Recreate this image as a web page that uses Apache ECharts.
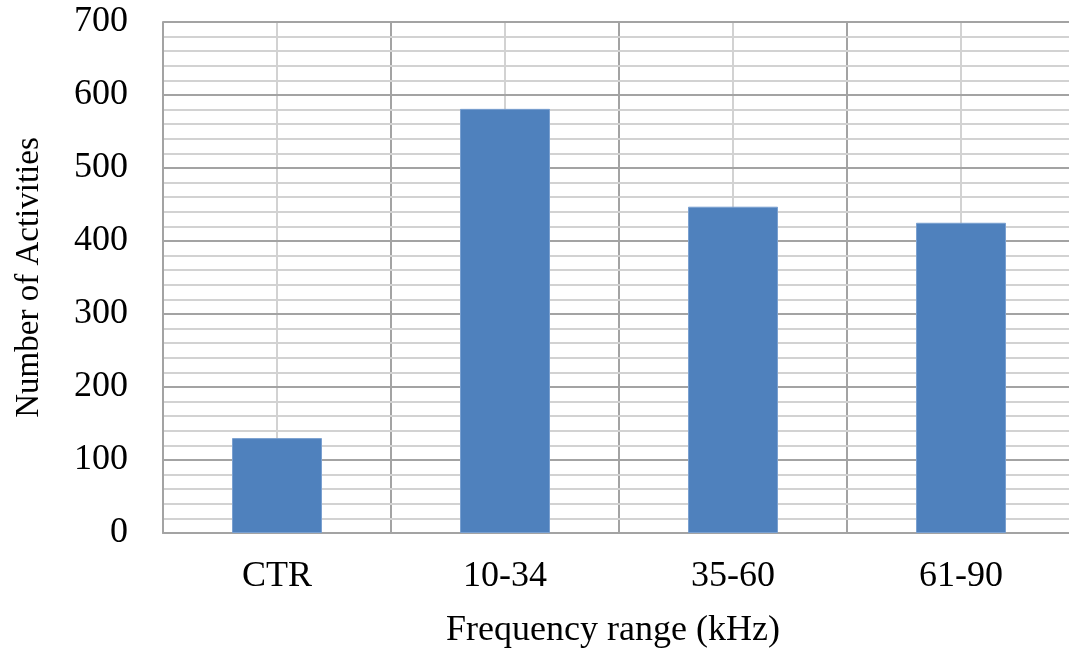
<!DOCTYPE html>
<html>
<head>
<meta charset="utf-8">
<script src="https://cdn.jsdelivr.net/npm/echarts@6/dist/echarts.min.js"></script>
<style>html,body{margin:0;padding:0;background:#fff;overflow:hidden;}#c{width:1080px;height:656px;}</style>
</head>
<body>
<div id="c"></div>
<script>
const categories = ['CTR', '10-34', '35-60', '61-90'];
const activities = [130, 581, 447, 425];
const yTicks = [0, 100, 200, 300, 400, 500, 600, 700];

const FONT = '"Liberation Serif", "DejaVu Serif", serif';
const MAJOR = '#a3a3a3';
const MINOR = '#d2d2d2';

const chart = echarts.init(document.getElementById('c'), null, {renderer: 'canvas'});
chart.setOption({
  animation: false,
  backgroundColor: '#fff',
  grid: {left: 163, top: 22, right: 5, bottom: 123, containLabel: false},
  xAxis: [
    {
      type: 'category',
      data: categories,
      boundaryGap: true,
      z: 3,
      axisLine: {show: true, lineStyle: {color: MAJOR, width: 2}},
      axisTick: {show: false},
      splitLine: {show: false},
      axisLabel: {color: '#000', fontFamily: FONT, fontSize: 36, margin: 26},
      name: 'Frequency range (kHz)',
      nameLocation: 'middle',
      nameGap: 80,
      nameTextStyle: {color: '#000', fontFamily: FONT, fontSize: 36, padding: [0, 12, 0, 0]}
    },
    {
      type: 'value',
      min: 0,
      max: categories.length,
      interval: 1,
      position: 'bottom',
      z: 1,
      axisLine: {show: false},
      axisTick: {show: false},
      axisLabel: {show: false},
      splitLine: {show: true, lineStyle: {color: MAJOR, width: 2}},
      minorTick: {show: false, splitNumber: 2},
      minorSplitLine: {show: true, lineStyle: {color: MINOR, width: 2}}
    }
  ],
  yAxis: {
    type: 'value',
    min: yTicks[0],
    max: yTicks[yTicks.length - 1],
    interval: 100,
    z: 2,
    axisLine: {show: true, lineStyle: {color: MAJOR, width: 2}},
    axisTick: {show: false},
    axisLabel: {color: '#000', fontFamily: FONT, fontSize: 36, margin: 35},
    splitLine: {show: true, lineStyle: {color: MAJOR, width: 2}},
    minorTick: {show: false, splitNumber: 5},
    minorSplitLine: {show: true, lineStyle: {color: MINOR, width: 2}},
    name: 'Number of Activities',
    nameLocation: 'middle',
    nameGap: 117,
    nameTextStyle: {color: '#000', fontFamily: FONT, fontSize: 33}
  },
  series: [{
    type: 'bar',
    xAxisIndex: 0,
    data: activities,
    barWidth: 90,
    z: 5,
    itemStyle: {color: '#4f81bd', borderColor: '#7aa0d0', borderWidth: 1}
  }]
});
</script>
</body>
</html>
